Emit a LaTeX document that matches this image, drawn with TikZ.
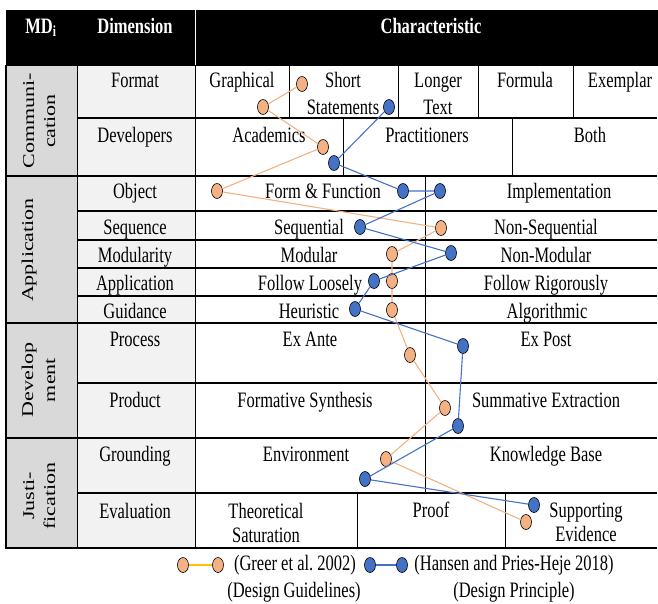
\documentclass[tikz,border=0pt]{standalone}
\usepackage{fontspec}
\setmainfont{Liberation Serif}[FakeStretch=0.75]
\newfontfamily\grpfont{Liberation Serif}[FakeStretch=1.3333]
\usetikzlibrary{shapes.geometric}

\definecolor{mdgray}{HTML}{D9D9D9}
\definecolor{dimgray}{HTML}{F2F2F2}
\definecolor{greer}{HTML}{F4B183}
\definecolor{hansen}{HTML}{4472C4}
\definecolor{legline}{HTML}{FFC000}

\tikzset{
  txt/.style={anchor=base, inner sep=0pt, font=\fontsize{22}{26}\selectfont},
  hd/.style={txt, text=white, font=\fontsize{22}{26}\selectfont\bfseries},
  grp/.style={anchor=base, rotate=90, inner sep=0pt, font=\grpfont\fontsize{16.5}{20}\selectfont},
  gdot/.style={ellipse, draw=black, line width=0.6pt, fill=greer, minimum width=11pt, minimum height=15pt, inner sep=0pt},
  hdot/.style={gdot, fill=hansen},
  gpath/.style={greer, line width=1.1pt},
  hpath/.style={hansen, line width=1.1pt}
}

\begin{document}
\begin{tikzpicture}[x=1pt,y=-1pt]
\useasboundingbox (0,0) rectangle (658,603);

% column shading
\draw[fill=mdgray,mdgray] (6,65) rectangle (77,548);
\draw[fill=dimgray,dimgray] (77,65) rectangle (195,548);

% header
\draw[fill=black] (6,10) rectangle (657,65);
\draw[white, line width=1pt] (195,10) -- (195,65);

% horizontal rules
\draw[line width=2pt] (77,118) -- (657,118);
\draw[line width=2pt] (6,176) -- (657,176);
\draw[line width=2pt] (77,211) -- (657,211);
\draw[line width=2pt] (77,240) -- (657,240);
\draw[line width=2pt] (77,268) -- (657,268);
\draw[line width=2pt] (77,296) -- (657,296);
\draw[line width=2pt] (6,323) -- (657,323);
\draw[line width=2pt] (77,383) -- (657,383);
\draw[line width=2pt] (6,438) -- (657,438);
\draw[line width=2pt] (77,493) -- (657,493);
\draw[line width=2pt] (5,548) -- (657,548);

% vertical rules
\draw[line width=2pt] (6,65) -- (6,549);
\draw[line width=1pt] (77,65) -- (77,548);
\draw[line width=1pt] (195,65) -- (195,548);
\draw[line width=1pt] (289,65) -- (289,118);
\draw[line width=1pt] (398,65) -- (398,118);
\draw[line width=1pt] (478,65) -- (478,118);
\draw[line width=1pt] (573,65) -- (573,118);
\draw[line width=1pt] (343,118) -- (343,176);
\draw[line width=1pt] (512,118) -- (512,176);
\draw[line width=1pt] (425,176) -- (425,493);
\draw[line width=1pt] (357,493) -- (357,548);
\draw[line width=1pt] (505,493) -- (505,548);

% header texts
\node[hd] (mdi) at (41,33) {MD\textsubscript{i}};
\node[hd] (dimhd) at (135,33) {Dimension};
\node[hd] (charhd) at (431,33) {Characteristic};

% meta dimensions
\node[grp] (gcom1) at (34,121) {Communi-};
\node[grp] (gcom2) at (55,121) {cation};
\node[grp] (gapp) at (33,250) {Application};
\node[grp] (gdev1) at (33,380) {Develop};
\node[grp] (gdev2) at (55,380) {ment};
\node[grp] (gjus1) at (34,496) {Justi-};
\node[grp] (gjus2) at (55,496) {fication};

% dimensions
\node[txt] (fmt) at (135,87) {Format};
\node[txt] (dev) at (135,142) {Developers};
\node[txt] (obj) at (135,198) {Object};
\node[txt] (seq) at (135,234) {Sequence};
\node[txt] (mod) at (135,262) {Modularity};
\node[txt] (app) at (135,290) {Application};
\node[txt] (gui) at (135,318) {Guidance};
\node[txt] (pro) at (135,346) {Process};
\node[txt] (prd) at (135,407) {Product};
\node[txt] (grd) at (135,461) {Grounding};
\node[txt] (eva) at (135,518) {Evaluation};

% characteristics
\node[txt] (graph) at (242,87) {Graphical};
\node[txt] (short1) at (343,87) {Short};
\node[txt] (short2) at (343,114) {Statements};
\node[txt] (longer1) at (438,87) {Longer};
\node[txt] (longer2) at (438,114) {Text};
\node[txt] (formula) at (525,87) {Formula};
\node[txt] (exemplar) at (620,87) {Exemplar};

\node[txt] (acad) at (269,142) {Academics};
\node[txt] (pract) at (427,142) {Practitioners};
\node[txt] (both) at (590,142) {Both};

\node[txt] (formfun) at (323,198) {Form \& Function};
\node[txt] (impl) at (559,198) {Implementation};
\node[txt] (sequ) at (309,234) {Sequential};
\node[txt] (nonsequ) at (546,234) {Non-Sequential};
\node[txt] (modu) at (309,262) {Modular};
\node[txt] (nonmodu) at (546,262) {Non-Modular};
\node[txt] (loose) at (310,290) {Follow Loosely};
\node[txt] (rigor) at (546,290) {Follow Rigorously};
\node[txt] (heur) at (309,318) {Heuristic};
\node[txt] (algo) at (547,318) {Algorithmic};

\node[txt] (exante) at (310,346) {Ex Ante};
\node[txt] (expost) at (546,346) {Ex Post};
\node[txt] (formsyn) at (305,407) {Formative Synthesis};
\node[txt] (sumext) at (546,407) {Summative Extraction};
\node[txt] (env) at (306,461) {Environment};
\node[txt] (kb) at (546,461) {Knowledge Base};

\node[txt] (theo1) at (266,518) {Theoretical};
\node[txt] (theo2) at (266,542) {Saturation};
\node[txt] (proof) at (431,517) {Proof};
\node[txt] (supp1) at (586,517) {Supporting};
\node[txt] (supp2) at (586,541) {Evidence};

% Greer et al. 2002
\node[gdot] (o1) at (302,84) {};
\node[gdot] (o2) at (263,107) {};
\node[gdot] (o3) at (323,147) {};
\node[gdot] (o4) at (217,191) {};
\node[gdot] (o5) at (441,228) {};
\node[gdot] (o6) at (392,254) {};
\node[gdot] (o7) at (392,281) {};
\node[gdot] (o8) at (392,310) {};
\node[gdot] (o9) at (410,355) {};
\node[gdot] (o10) at (445,408) {};
\node[gdot] (o11) at (386,459) {};
\node[gdot] (o12) at (526,522) {};
\draw[gpath] (o1) -- (o2) -- (o3) -- (o4) -- (o5) -- (o6) -- (o7) -- (o8)
  -- (o9) -- (o10) -- (o11) -- (o12);

% Hansen and Pries-Heje 2018
\node[hdot] (b1) at (389,107) {};
\node[hdot] (b2) at (334,163) {};
\node[hdot] (b3) at (403,191) {};
\node[hdot] (b4) at (440,191) {};
\node[hdot] (b5) at (360,227) {};
\node[hdot] (b6) at (451,253) {};
\node[hdot] (b7) at (374,281) {};
\node[hdot] (b8) at (355,309) {};
\node[hdot] (b9) at (463,346) {};
\node[hdot] (b10) at (458,426) {};
\node[hdot] (b11) at (365,479) {};
\node[hdot] (b12) at (534,505) {};
\draw[hpath] (b1) -- (b2) -- (b3) -- (b4) -- (b5) -- (b6) -- (b7) -- (b8)
  -- (b9) -- (b10) -- (b11) -- (b12);

% legend
\node[gdot] (lg1) at (183,565) {};
\node[gdot] (lg2) at (218,565) {};
\draw[legline, line width=1.1pt] (lg1) -- (lg2);
\node[txt] (lgt) at (295,570) {(Greer et al.\ 2002)};
\node[hdot] (lh1) at (370,565) {};
\node[hdot] (lh2) at (402,565) {};
\draw[hpath] (lh1) -- (lh2);
\node[txt] (lht) at (514,570) {(Hansen and Pries-Heje 2018)};
\node[txt] (lgs) at (294,597) {(Design Guidelines)};
\node[txt] (lhs) at (514,597) {(Design Principle)};
\end{tikzpicture}
\end{document}
